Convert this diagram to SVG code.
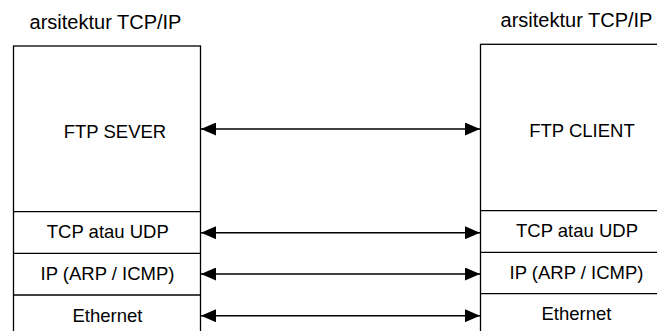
<svg xmlns="http://www.w3.org/2000/svg" width="657" height="331" viewBox="0 0 657 331">
<style>
.box{fill:#fff;stroke:#000;stroke-width:1.3}
.div{stroke:#000;stroke-width:1.3}
.t{font-family:"Liberation Sans",Arial,sans-serif;font-size:18.5px;fill:#000;text-anchor:middle}
.title{font-family:"Liberation Sans",Arial,sans-serif;font-size:20px;fill:#000;text-anchor:middle}
.conn{stroke:#000;stroke-width:1.5;fill:none;marker-start:url(#ah);marker-end:url(#ah)}
</style>
<defs>
<marker id="ah" viewBox="0 0 15 13" refX="15" refY="6.5" markerWidth="15" markerHeight="13" markerUnits="userSpaceOnUse" orient="auto-start-reverse">
<path d="M0,0 L15,6.5 L0,13 Z" fill="#000"/>
</marker>
</defs>
<rect width="657" height="331" fill="#fff"/>
<g id="server">
<text class="title" x="105.5" y="28.5">arsitektur TCP/IP</text>
<rect class="box" x="13.5" y="46" width="187" height="300"/>
<line class="div" x1="13.5" y1="211.7" x2="200.5" y2="211.7"/>
<line class="div" x1="13.5" y1="253.3" x2="200.5" y2="253.3"/>
<line class="div" x1="13.5" y1="295" x2="200.5" y2="295"/>
<text class="t" x="115" y="138.3">FTP SEVER</text>
<text class="t" x="107.8" y="237.7">TCP atau UDP</text>
<text class="t" x="107.5" y="279.5">IP (ARP / ICMP)</text>
<text class="t" x="107.5" y="321.5">Ethernet</text>
</g>
<g id="client">
<text class="title" x="576.5" y="26.5">arsitektur TCP/IP</text>
<rect class="box" x="480.5" y="44.3" width="193" height="300"/>
<line class="div" x1="480.5" y1="210.7" x2="673.5" y2="210.7"/>
<line class="div" x1="480.5" y1="252.3" x2="673.5" y2="252.3"/>
<line class="div" x1="480.5" y1="293.7" x2="673.5" y2="293.7"/>
<text class="t" x="582" y="137">FTP CLIENT</text>
<text class="t" x="577" y="237.3">TCP atau UDP</text>
<text class="t" x="576.5" y="278.5">IP (ARP / ICMP)</text>
<text class="t" x="576.5" y="320">Ethernet</text>
</g>
<g id="connectors">
<line class="conn" x1="201" y1="129" x2="480" y2="129"/>
<line class="conn" x1="201" y1="232.7" x2="480" y2="232.7"/>
<line class="conn" x1="201" y1="274" x2="480" y2="274"/>
<line class="conn" x1="201" y1="315.7" x2="480" y2="315.7"/>
</g>
</svg>
